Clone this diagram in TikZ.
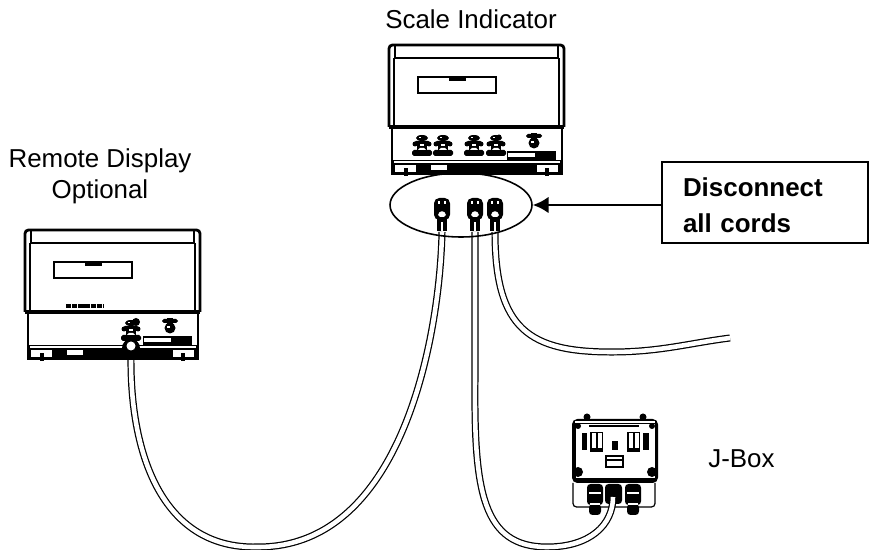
\documentclass[tikz,border=0pt]{standalone}
\usepackage{fontspec}
\setmainfont{Liberation Sans}
\usetikzlibrary{shapes.geometric}
\usetikzlibrary{arrows.meta}
\tikzset{
  lbl/.style={font=\fontsize{14.75}{17.5}\selectfont,inner sep=0pt},
  cord/.style={draw=black,line width=0.7pt,double=white,double distance=2.6pt},
  gland/.pic={
    \fill [black] (0,-8) ellipse (6 and 3);
    \fill [black,rounded corners=1] (-8,-5) rectangle (8,-2);
    \fill [black] (-5,-5) rectangle (5,5);
    \fill [black] (-7,-2) circle (2.5);
    \fill [black] (7,-2) circle (2.5);
    \fill [black,rounded corners=1] (-10,4) rectangle (10,10);
    \fill [white] (-2,-2) rectangle (2,0);
    \fill [white] (-3,-9) rectangle (-1,-8);
    \fill [white] (-2,2) -- (2,2) -- (4,4) -- (-4,4) -- cycle;
  },
  knob/.pic={
    \fill [black,rounded corners=1] (-8,-7) rectangle (8,-3);
    \fill [black] (-3,-8) rectangle (3,0);
    \fill [black] (0,2) circle (5.5);
    \fill [white] (-3,0) rectangle (0,2);
  },
  plug/.pic={
    \fill [black,rounded corners=3] (-8,0) rectangle (8,22);
    \fill [black] (-5,20) rectangle (5,33);
    \fill [white] (-4,3) rectangle (-2,6);
    \fill [white] (2,3) rectangle (4,6);
    \fill [white] (-4,17) .. controls (-3,12) and (3,12) .. (4,17) -- (2,19) -- (-2,19) -- cycle;
    \fill [white] (-1,24) rectangle (1,33);
  },
  indicator/.pic={
    \draw [line width=1.6pt,rounded corners=2] (0,82) -- (0,0) -- (175,0) -- (175,82);
    \draw [line width=0.8pt] (6,1) -- (6,13) -- (169,13) -- (169,1);
    \draw [line width=0.9pt] (5,13) -- (5,82);
    \draw [line width=0.9pt] (170,13) -- (170,82);
    \draw [line width=2pt] (0,82) -- (175,82);
    \draw [line width=0.9pt] (3,82) -- (3,129) -- (173,129) -- (173,82);
    \fill [black] (3,115) rectangle (173,129);
    \fill [white] (5,116.5) rectangle (171,118);
    \fill [white] (6,120) rectangle (27,127);
    \fill [white] (148,120) rectangle (169,127);
    \fill [white] (42,120) rectangle (58,125);
    \fill [black] (15,123) rectangle (19,131);
    \fill [black] (156,123) rectangle (160,131);
    \fill [black] (118,106) rectangle (167,115);
    \fill [white] (119,108) rectangle (146,112);
    \draw [line width=0.8pt] (29,32) rectangle (107,48);
    \fill [black] (60,32) rectangle (77,36);
    \pic at (145,96) {knob};
  }
}
\begin{document}
\begin{tikzpicture}[x=0.02cm,y=-0.02cm]
    \useasboundingbox (0,0) rectangle (873,550);
    \node [lbl] (scalelbl) at (471,19) {Scale Indicator};
    \node [lbl,align=center] (remotelbl) at (100,176) {Remote Display\\Optional};
    \node [lbl,anchor=west] (jboxlbl) at (708,459) {J-Box};
    % j-box
    \draw [line width=0.7pt,rounded corners=2] (573,483) -- (573,507) -- (655,507) -- (655,483);
    \fill [black,rounded corners=3] (572,419) rectangle (658,483);
    \fill [white] (576,424) rectangle (655,478);
    \fill [white] (575,421) rectangle (655,423);
    \foreach \bx in {587,643} \fill [black] (\bx,417) circle (3.5);
    \foreach \bx in {578,652} {
        \fill [black] (\bx,426) circle (3);
        \fill [black] (\bx,472) circle (5);
    }
    \draw [line width=0.9pt] (589,426) -- (639,426);
    \fill [black] (590,432) rectangle (603,452);
    \fill [black] (627,432) rectangle (640,452);
    \fill [white] (592,433) rectangle (596,448);
    \fill [white] (598,433) rectangle (602,448);
    \fill [white] (629,433) rectangle (633,448);
    \fill [white] (635,433) rectangle (639,448);
    \fill [black] (582,433) rectangle (587,450);
    \fill [black] (643,433) rectangle (649,450);
    \fill [black] (612,441) rectangle (618,450);
    \draw [line width=1pt] (606,456) rectangle (623,467);
    \fill [black] (607,459) rectangle (622,461);
    \foreach \kx in {595,633} {
        \fill [black,rounded corners=2] (\kx-8,484) rectangle (\kx+8,505);
        \fill [black,rounded corners=2] (\kx-6,504) rectangle (\kx+6,515);
        \fill [white] (\kx-6,492) rectangle (\kx+6,494);
        \fill [white] (\kx-5,503) rectangle (\kx+5,505);
    }
    \fill [black,rounded corners=2] (605,484) rectangle (622,504);
    \coordinate (remoteplug) at (131,357);
    \coordinate (plugl) at (442,232);
    \coordinate (plugm) at (475,232);
    \coordinate (plugr) at (495,232);
    \coordinate (jboxplug) at (613,497);
    \coordinate (cordend) at (730,338);
    \draw [cord] (plugl) .. controls (440,330) and (405,548) .. (257,547)
        .. controls (160,549) and (130,450) .. (remoteplug);
    \draw [cord] (plugm) -- (475,380) .. controls (474,490) and (482,547) .. (547,547)
        .. controls (590,547) and (613,525) .. (jboxplug);
    \draw [cord] (plugr) .. controls (495,330) and (530,352) .. (612,352)
        .. controls (660,352) and (690,343) .. (cordend);
    \pic at (389,45) {indicator};
    \pic at (25,230) {indicator};
    \begin{scope}[shift={(389,45)}]
    \foreach \gx in {33,54,85,107} \pic at (\gx,101) {gland};
    \fill [black] (110,92) circle (2.5);
    \end{scope}
    \begin{scope}[shift={(25,230)}]
    \pic at (106,101) {gland};
    \fill [black] (111,92) circle (4);
    \fill [black] (106,118) circle (9);
    \fill [white] (106,116) circle (4.5);
    \draw [line width=2pt,dash pattern=on 3pt off 0.5pt] (41,76) -- (78,76);
    \end{scope}
    \foreach \px in {442,475,495} \pic at (\px,198) {plug};
    \node [draw,ellipse,line width=0.9pt,minimum width=2.84cm,minimum height=1.28cm,inner sep=0pt] (cordoval) at (461,205) {};
    \node [draw,line width=1.1pt,align=left,text width=3.28cm,inner xsep=0.42cm,inner ysep=0pt,minimum height=1.62cm,
        font=\bfseries\fontsize{14.75}{20.4}\selectfont] (cordbox) at (765,202.5) {\rule{0pt}{14pt}Disconnect\\all cords};
    \draw [-{Latex[length=9pt,width=9.5pt]},line width=1.6pt] (cordbox.west |- cordoval.east) -- (cordoval.east);
\end{tikzpicture}
\end{document}
